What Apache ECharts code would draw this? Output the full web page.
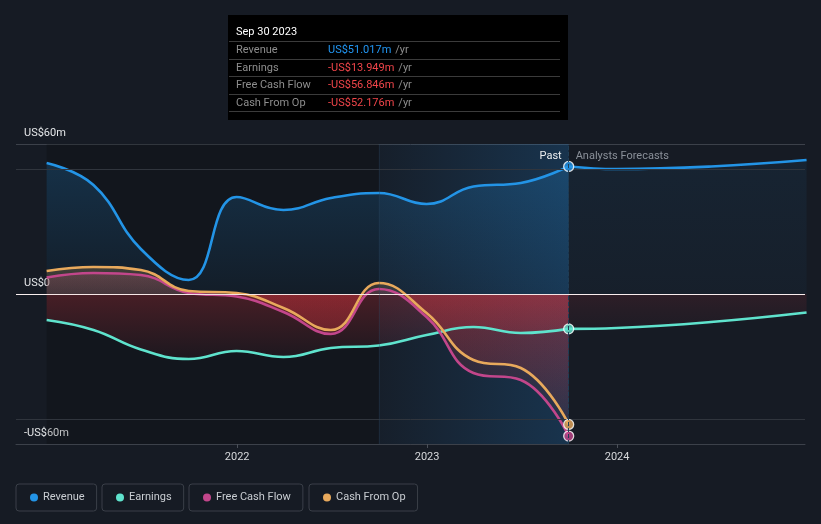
<!DOCTYPE html>
<html><head><meta charset="utf-8">
<script src="https://cdn.jsdelivr.net/npm/echarts@6/dist/echarts.min.js"></script>
<style>html,body{margin:0;padding:0;background:#161b24;}#c{width:821px;height:524px;}</style>
</head><body><div id="c"></div>
<script>
// ---- data ----
const pastDates = ['2020-12-31','2021-03-31','2021-06-30','2021-09-30','2021-12-31','2022-03-31','2022-06-30','2022-09-30','2022-12-31','2023-03-31','2023-06-30','2023-09-30'];
const revenue  = [52.4, 43.6, 18.0, 5.6, 38.8, 33.6, 38.4, 40.4, 36.0, 43.0, 44.4, 51.017];
const earnings = [-10.4, -14.4, -22.2, -26.0, -22.8, -25.2, -21.6, -20.6, -16.4, -13.2, -15.6, -13.949];
const fcf      = [6.6, 8.4, 7.6, 0.4, -1.0, -7.2, -16.0, 2.0, -9.2, -31.6, -34.4, -56.846];
const cfo      = [9.2, 10.8, 9.6, 1.2, 0.4, -5.6, -14.4, 4.4, -7.6, -26.4, -29.6, -52.176];
const forecastDates = ['2023-09-30','2023-12-31','2024-06-30','2024-12-31'];
const revenueForecast  = [51.017, 50.0, 51.0, 53.6];
const earningsForecast = [-13.949, -13.6, -11.2, -7.4];
const yearTicks = [2022, 2023, 2024];
const yTicks = [-60, 0, 60];
const extraGrid = [50, -50];
const xMinDate = '2020-11-02', xMaxDate = '2024-12-28';
const bandStart = '2022-09-30';
const reportDate = '2023-09-30';
const seriesNames = ['Revenue', 'Earnings', 'Free Cash Flow', 'Cash From Op'];

// ---- helpers ----
function yr(s){const p=s.split('-').map(Number);const t0=Date.UTC(p[0],0,1),t1=Date.UTC(p[0]+1,0,1);return p[0]+(Date.UTC(p[0],p[1]-1,p[2])-t0)/(t1-t0);}
const COL = {rev:'#2394e6', earn:'#5fe3cd', fcf:'#c2468b', cfo:'#e8a95c', neg:'#e5363f'};
const FONT = 'Roboto, "Noto Sans", sans-serif';
function rgba(hex, a){const n=parseInt(hex.slice(1),16);return `rgba(${n>>16&255},${n>>8&255},${n&255},${a})`;}
function areaGrad(values, pos, pa, na){
  const max=Math.max(0,...values), min=Math.min(0,...values);
  const z = max/(max-min||1); const stops=[];
  if(max>0){stops.push({offset:0,color:rgba(pos,pa[0])});stops.push({offset:z,color:rgba(pos,pa[1])});}
  if(min<0){stops.push({offset:z,color:rgba(COL.neg,na[0])});stops.push({offset:1,color:rgba(COL.neg,na[1])});}
  return new echarts.graphic.LinearGradient(0,0,0,1,stops);
}
const zip=(d,v)=>d.map((x,i)=>[yr(x),v[i]]);
const li = pastDates.length-1;
function fmtVal(v){return (v<0?'-':'')+'US$'+Math.abs(v).toFixed(3)+'m';}
function fmtDate(s){const m=['Jan','Feb','Mar','Apr','May','Jun','Jul','Aug','Sep','Oct','Nov','Dec'];const p=s.split('-');return m[+p[1]-1]+' '+(+p[2])+' '+p[0];}

const lineBase = {type:'line', smooth:0.45, symbol:'none', emphasis:{disabled:true}};

const chart = echarts.init(document.getElementById('c'));
const legendLefts = [16, 102, 189, 309];
const option = {
  backgroundColor:'#161b24',
  animation:false,
  textStyle:{fontFamily:FONT},
  grid:{left:16,right:16,top:144,bottom:80,containLabel:false},
  legend: seriesNames.map((n,i)=>({
    data:[n], left:legendLefts[i], top:484, orient:'horizontal', selectedMode:false,
    icon:'circle', itemWidth:8, itemHeight:8,
    padding:[8,12,8,14], borderColor:'#3a3f48', borderWidth:1, borderRadius:3,
    textStyle:{color:'#c9cdd2', fontSize:11, fontFamily:FONT, lineHeight:11}
  })),
  tooltip:{
    trigger:'axis', triggerOn:'none', alwaysShowContent:true, showDelay:0, transitionDuration:0,
    position:[228,15], backgroundColor:'#000', borderWidth:0, padding:[7,8,8,1],
    extraCssText:'box-shadow:none;border-radius:0;',
    axisPointer:{type:'line', lineStyle:{color:'#1f3d55', width:1}, label:{show:false}},
    formatter:()=>{
      const rows=[[seriesNames[0],revenue[li]],[seriesNames[1],earnings[li]],[seriesNames[2],fcf[li]],[seriesNames[3],cfo[li]]];
      let h=`<div style="font-family:Roboto,sans-serif;font-size:11px;width:331px;">`;
      h+=`<div style="color:#fff;height:19px;line-height:19px;padding-left:7px;">${fmtDate(reportDate)}</div>`;
      rows.forEach(r=>{
        const c = r[1]<0?'#f0454a':'#2196f3';
        h+=`<div style="border-top:1px solid #3b3b3b;height:16.5px;line-height:16.5px;display:flex;white-space:nowrap;">`+
           `<span style="display:inline-block;width:92px;padding-left:7px;color:#8e8e8e">${r[0]}</span>`+
           `<span style="color:${c}">${fmtVal(r[1])}</span><span style="color:#8e8e8e;margin-left:4px">/yr</span></div>`;
      });
      h+=`<div style="border-top:1px solid #3b3b3b;height:0"></div></div>`;
      return h;
    }
  },
  xAxis:{
    type:'value', min:yr(xMinDate), max:yr(xMaxDate),
    axisLine:{onZero:false, lineStyle:{color:'#3c414a',width:1}},
    axisTick:{show:true, length:4, lineStyle:{color:'#4a4f58'}, customValues:yearTicks},
    axisLabel:{color:'#d6d8db', fontSize:11, fontFamily:FONT, margin:8, customValues:yearTicks,
      formatter:(v)=>String(Math.round(v))},
    splitLine:{show:false}
  },
  yAxis:{
    type:'value', min:yTicks[0], max:yTicks[yTicks.length-1], interval:60,
    axisLine:{show:false}, axisTick:{show:false},
    axisLabel:{inside:true, margin:8, verticalAlign:'bottom', padding:[0,0,5,0], color:'#e4e6e8', fontSize:11, fontFamily:FONT,
      formatter:(v)=> v===0?'US$0':(v<0?'-':'')+'US$'+Math.abs(v)+'m'},
    splitLine:{show:true, lineStyle:{color:['#3c414a','#f2eeee','#3c414a'], width:1}}
  },
  series:[
    Object.assign({}, lineBase, {
      name:seriesNames[0], data:zip(pastDates,revenue), z:2,
      itemStyle:{color:COL.rev}, lineStyle:{color:COL.rev,width:2.6},
      areaStyle:{color:areaGrad(revenue, COL.rev, [0.3,0.08], [0.3,0.08])},
      markArea:{silent:true, data:[
        [{xAxis:yr(pastDates[0]), itemStyle:{color:'rgba(0,0,0,0.17)'}},{xAxis:yr(bandStart)}],
        [{xAxis:yr(bandStart), itemStyle:{color:new echarts.graphic.LinearGradient(0,0,1,0,[{offset:0,color:'rgba(33,150,243,0.03)'},{offset:1,color:'rgba(33,150,243,0.2)'}])},
          label:{show:true, formatter:'Past', position:'insideTopRight', distance:7, color:'#eceef0', fontSize:11, fontFamily:FONT}},{xAxis:yr(reportDate)}],
        [{xAxis:yr(reportDate), itemStyle:{color:'rgba(0,0,0,0)'},
          label:{show:true, formatter:'Analysts Forecasts', position:'insideTopLeft', distance:7, color:'#8a9099', fontSize:11, fontFamily:FONT}},{xAxis:yr(xMaxDate)}]
      ]},
      markLine:{silent:true, symbol:'none', label:{show:false}, lineStyle:{color:'#30353d', width:1, type:'solid'},
        data: extraGrid.map(v=>({yAxis:v}))
          .concat([{yAxis:0, lineStyle:{color:'rgba(250,238,238,0.9)'}}])
          .concat([{xAxis:yr(bandStart), lineStyle:{color:'rgba(40,65,90,0.3)'}}])}
    }),
    Object.assign({}, lineBase, {
      name:seriesNames[0], data:zip(forecastDates,revenueForecast), z:2,
      itemStyle:{color:COL.rev}, lineStyle:{color:COL.rev,width:2.6},
      areaStyle:{color:areaGrad(revenueForecast, COL.rev, [0.1,0.05], [0.1,0.05])}
    }),
    Object.assign({}, lineBase, {
      name:seriesNames[1], data:zip(pastDates,earnings), z:2,
      itemStyle:{color:COL.earn}, lineStyle:{color:COL.earn,width:2.6},
      areaStyle:{color:areaGrad(earnings, COL.earn, [0.3,0.15], [0.36,0.07])}
    }),
    Object.assign({}, lineBase, {
      name:seriesNames[1], data:zip(forecastDates,earningsForecast), z:2,
      itemStyle:{color:COL.earn}, lineStyle:{color:COL.earn,width:2.6},
      areaStyle:{color:areaGrad(earningsForecast, COL.earn, [0.15,0.05], [0.16,0.05])}
    }),
    Object.assign({}, lineBase, {
      name:seriesNames[2], data:zip(pastDates,fcf), z:2,
      itemStyle:{color:COL.fcf}, lineStyle:{color:COL.fcf,width:2.6},
      areaStyle:{color:areaGrad(fcf, COL.fcf, [0.3,0.2], [0.32,0.06])}
    }),
    Object.assign({}, lineBase, {
      name:seriesNames[3], data:zip(pastDates,cfo), z:2,
      itemStyle:{color:COL.cfo}, lineStyle:{color:COL.cfo,width:2.6},
      areaStyle:{color:areaGrad(cfo, COL.cfo, [0.3,0.2], [0.32,0.06])}
    }),
    {
      name:'markers', type:'scatter', z:10, silent:true, symbolSize:10, emphasis:{disabled:true}, tooltip:{show:false},
      data:[
        {value:[yr(reportDate),revenue[li]], itemStyle:{color:COL.rev}},
        {value:[yr(reportDate),earnings[li]], itemStyle:{color:COL.earn}},
        {value:[yr(reportDate),fcf[li]], itemStyle:{color:COL.fcf}},
        {value:[yr(reportDate),cfo[li]], itemStyle:{color:COL.cfo}}
      ],
      itemStyle:{borderColor:'#ffffff', borderWidth:1.3}
    }
  ]
};
chart.setOption(option);
chart.dispatchAction({type:'showTip', seriesIndex:0, dataIndex:li});
</script>
</body></html>
